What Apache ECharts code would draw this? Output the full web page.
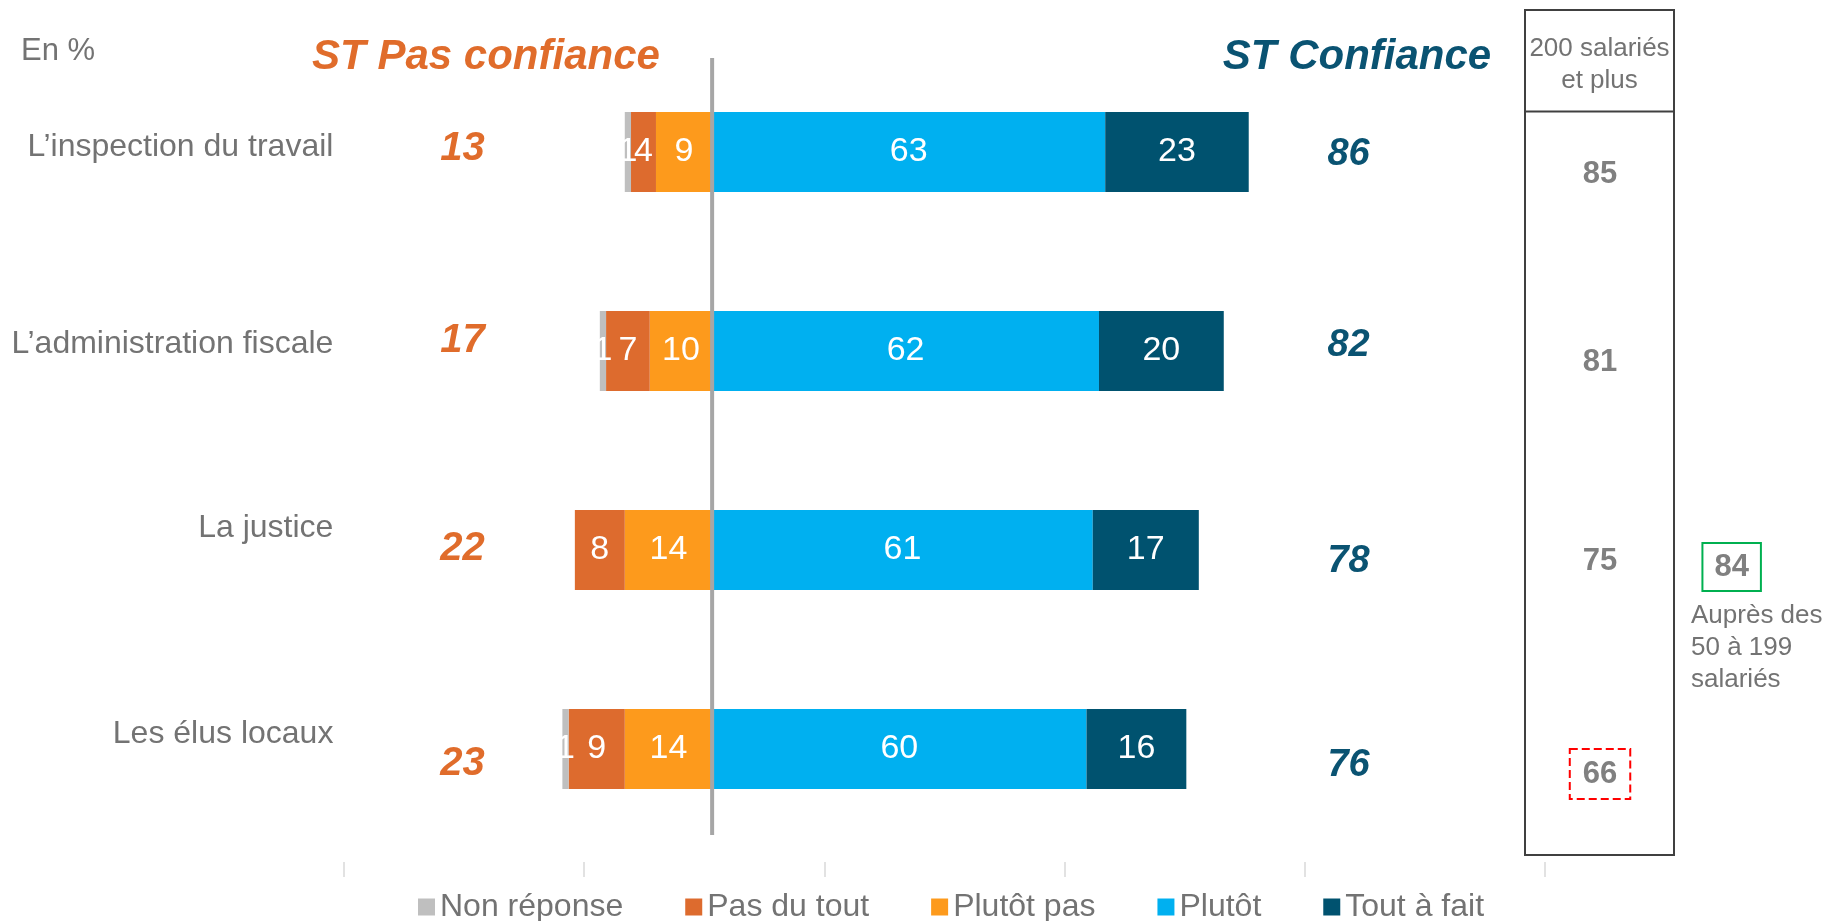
<!DOCTYPE html>
<html>
<head>
<meta charset="utf-8">
<title>Confiance</title>
<script src="https://cdn.jsdelivr.net/npm/echarts@6/dist/echarts.min.js"></script>
<style>
  html, body { margin: 0; padding: 0; background: #fff; }
  #chart { width: 1829px; height: 921px; }
</style>
</head>
<body>
<div id="chart"></div>
<script>
// données (en %)
var categories = ['L’inspection du travail', 'L’administration fiscale', 'La justice', 'Les élus locaux'];
var nonReponse = [1, 1, 0, 1];
var pasDuTout = [4, 7, 8, 9];
var plutotPas = [9, 10, 14, 14];
var plutot = [63, 62, 61, 60];
var toutAFait = [23, 20, 17, 16];
var stPasConfiance = [13, 17, 22, 23];
var stConfiance = [86, 82, 78, 76];
var salaries200 = [85, 81, 75, 66]; // 200 salariés et plus
var salaries50Justice = 84; // auprès des 50 à 199 salariés (la justice)
var tickValues = [-59, -20.5, 18, 56.5, 95, 133.5];

var font = '"Liberation Sans", Arial, sans-serif';
var grey = '#737373';
var orange = '#e06c2b';
var teal = '#0a5372';

// colonnes de texte (en unités de l'axe) et petits décalages verticaux par ligne (px)
var xLabel = -60.7, xPas = -40, xConf = 102, xBox = 142.3, xNote = 163.4;
var nudgeLabel = [-5, -7, -22, -15];
var nudgePas = [-3, -10, -1, 15];
var nudgeConf = [3, -5, 12, 17];
var nudgeBox = [22, 11, 11, 25];

var chart = echarts.init(document.getElementById('chart'));

function barLabel () {
  return {
    show: true,
    position: 'inside',
    color: '#fff',
    fontSize: 34,
    fontFamily: font,
    formatter: function (p) { return p.value === 0 ? '' : Math.abs(p.value) }
  }
}
function neg (arr) { return arr.map(function (v) { return -v }) }

// série de textes posés sur la grille
function textSeries (values, x, nudge, label, z) {
  return {
    type: 'scatter',
    symbolSize: 0,
    clip: false,
    silent: true,
    z: z || 5,
    itemStyle: { opacity: 1 },
    data: values.map(function (v, i) {
      return { value: [x, i], t: v, label: { offset: [0, nudge[i]] } }
    }),
    label: Object.assign({
      show: true,
      position: 'inside',
      fontFamily: font,
      formatter: function (p) { return p.data.t }
    }, label)
  }
}

var boxSeries = textSeries(salaries200, xBox, nudgeBox, { fontSize: 31, fontWeight: 'bold', color: '#808080' })
// écart signalé en rouge
Object.assign(boxSeries.data[3].label, { borderColor: '#ff0000', borderWidth: 2, borderType: 'dashed', padding: [10, 13, 9, 13] })

var option = {
  animation: false,
  textStyle: { fontFamily: font },
  grid: { left: 344, top: 52.5, width: 1485, height: 796 },
  legend: {
    left: 413,
    top: 886,
    itemWidth: 17,
    itemHeight: 17,
    itemGap: 62,
    icon: 'rect',
    selectedMode: false,
    textStyle: { fontSize: 32, color: grey, fontFamily: font },
    data: ['Non réponse', 'Pas du tout', 'Plutôt pas', 'Plutôt', 'Tout à fait']
  },
  xAxis: [{
    type: 'value',
    min: -59,
    max: 179,
    show: false
  }, {
    type: 'value',
    min: -59,
    max: 179,
    position: 'bottom',
    offset: 13.5,
    axisLine: { show: false },
    axisLabel: { show: false },
    splitLine: { show: false },
    axisTick: { show: true, length: 15, customValues: tickValues, lineStyle: { color: '#d9d9d9', width: 1.5 } }
  }],
  yAxis: {
    type: 'category',
    inverse: true,
    data: categories,
    axisLine: { show: false },
    axisTick: { show: false },
    axisLabel: { show: false }
  },
  series: [
    // côté négatif : du centre vers l'extérieur
    { name: 'Plutôt pas', type: 'bar', stack: 'a', barWidth: 80, data: neg(plutotPas), itemStyle: { color: '#fd9a1c' }, label: barLabel() },
    { name: 'Pas du tout', type: 'bar', stack: 'a', barWidth: 80, data: neg(pasDuTout), itemStyle: { color: '#dd6b2e' }, label: barLabel() },
    { name: 'Non réponse', type: 'bar', stack: 'a', barWidth: 80, data: neg(nonReponse), itemStyle: { color: '#bfbfbf' }, label: barLabel() },
    // côté positif
    { name: 'Plutôt', type: 'bar', stack: 'a', barWidth: 80, data: plutot, itemStyle: { color: '#00b0f0' }, label: barLabel() },
    { name: 'Tout à fait', type: 'bar', stack: 'a', barWidth: 80, data: toutAFait, itemStyle: { color: '#00526f' }, label: barLabel() },
    // libellés des lignes
    textSeries(categories, xLabel, nudgeLabel, { fontSize: 32, color: grey, align: 'right' }),
    // sous-totaux
    textSeries(stPasConfiance, xPas, nudgePas, { fontSize: 40, fontWeight: 'bold', fontStyle: 'italic', color: orange }),
    textSeries(stConfiance, xConf, nudgeConf, { fontSize: 38, fontWeight: 'bold', fontStyle: 'italic', color: teal }),
    // 200 salariés et plus
    boxSeries,
    // 50 à 199 salariés
    {
      type: 'scatter', symbolSize: 0, clip: false, silent: true,
      itemStyle: { opacity: 1 },
      data: [{ value: [xNote, 2], t: salaries50Justice }],
      label: { show: true, position: 'inside', offset: [0, 17], formatter: function (p) { return p.data.t }, fontSize: 31, fontWeight: 'bold', color: '#808080', borderColor: '#00b050', borderWidth: 2, padding: [9, 12, 8, 12] }
    }
  ]
}
chart.setOption(option)

// éléments de décor
var x0 = chart.convertToPixel({ xAxisIndex: 0 }, 0)
chart.setOption({
  graphic: [
    { type: 'line', shape: { x1: x0, y1: 58, x2: x0, y2: 835 }, style: { stroke: '#a6a6a6', lineWidth: 4 }, z: 10 },
    { type: 'text', x: 21, y: 51, style: { text: 'En %', fontSize: 31, fontFamily: font, fill: grey, textVerticalAlign: 'middle' } },
    { type: 'text', x: 486, y: 57, style: { text: 'ST Pas confiance', fontSize: 42, fontWeight: 'bold', fontStyle: 'italic', fontFamily: font, fill: orange, textAlign: 'center', textVerticalAlign: 'middle' } },
    { type: 'text', x: 1357, y: 57, style: { text: 'ST Confiance', fontSize: 42, fontWeight: 'bold', fontStyle: 'italic', fontFamily: font, fill: teal, textAlign: 'center', textVerticalAlign: 'middle' } },
    { type: 'rect', shape: { x: 1525, y: 10, width: 149, height: 845 }, style: { fill: 'none', stroke: '#404040', lineWidth: 2 } },
    { type: 'line', shape: { x1: 1525, y1: 111.5, x2: 1674, y2: 111.5 }, style: { stroke: '#404040', lineWidth: 2 } },
    { type: 'text', x: 1599.5, y: 65, style: { text: '200 salariés\net plus', fontSize: 26, lineHeight: 32, fontFamily: font, fill: grey, textAlign: 'center', textVerticalAlign: 'middle' } },
    { type: 'text', x: 1691, y: 648, style: { text: 'Auprès des\n50 à 199\nsalariés', fontSize: 26, lineHeight: 32, fontFamily: font, fill: grey, textVerticalAlign: 'middle' } }
  ]
})
</script>
</body>
</html>
